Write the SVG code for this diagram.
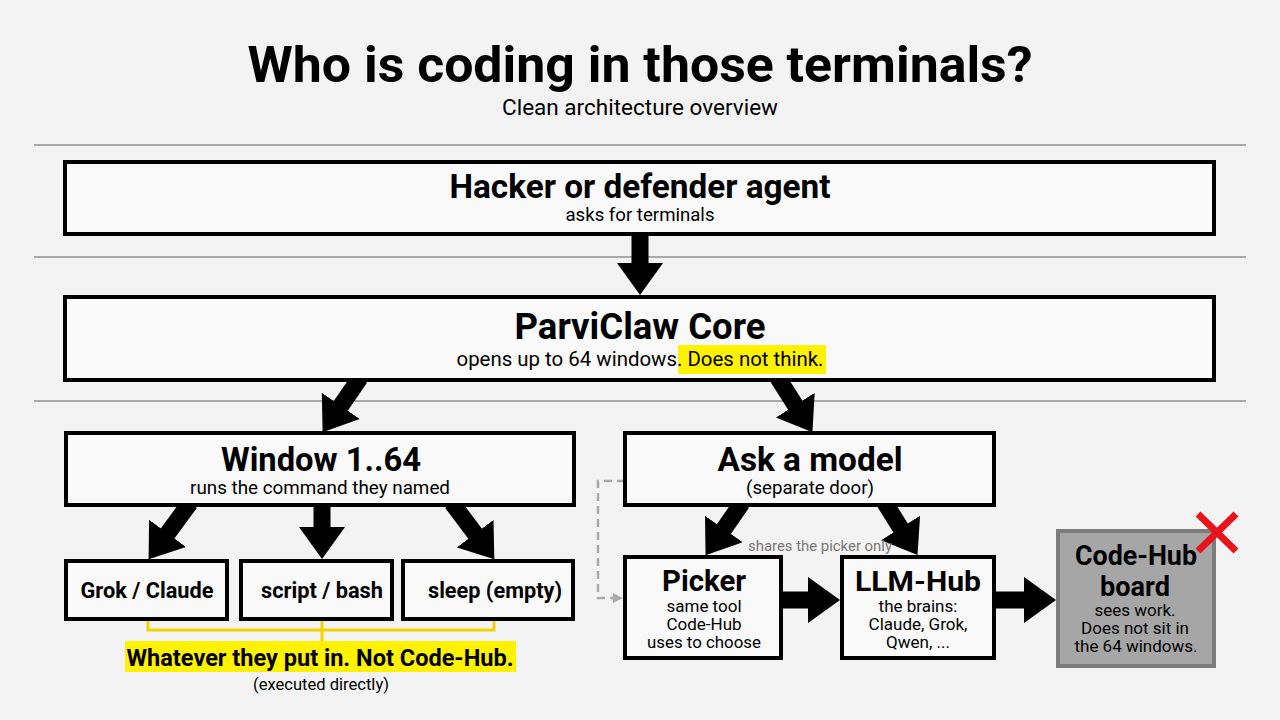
<svg xmlns="http://www.w3.org/2000/svg" width="1280" height="720" viewBox="0 0 1280 720">
<defs>
<marker id="head" viewBox="0 0 32 46" refX="1" refY="23" markerWidth="32" markerHeight="46" markerUnits="userSpaceOnUse" orient="auto">
<path d="M0,0 L32,23 L0,46 z" fill="#000"/>
</marker>
<marker id="ghead" viewBox="0 0 10 10" refX="1" refY="5" markerWidth="10" markerHeight="10" markerUnits="userSpaceOnUse" orient="auto">
<path d="M0,0 L10,5 L0,10 z" fill="#aaa"/>
</marker>
<style>
.t{font-family:Roboto,"Liberation Sans",sans-serif;fill:#000;text-anchor:middle}
.b{font-weight:bold}
.box{fill:#f9f9f9;stroke:#000;stroke-width:4}
.sep{stroke:#a8a8a8;stroke-width:2}
.arr{stroke:#000;stroke-width:17;fill:none}
</style>
</defs>
<rect width="1280" height="720" fill="#f3f3f3"/>
<g id="title">
<text class="t b" x="640" y="82" font-size="50" textLength="785" lengthAdjust="spacingAndGlyphs">Who is coding in those terminals?</text>
<text class="t" x="640" y="115" font-size="22" textLength="276" lengthAdjust="spacingAndGlyphs">Clean architecture overview</text>
</g>
<g id="separators">
<line class="sep" x1="34" y1="145" x2="1246" y2="145"/>
<line class="sep" x1="34" y1="257" x2="1246" y2="257"/>
<line class="sep" x1="34" y1="401" x2="1246" y2="401"/>
</g>
<g id="connectors">
<line class="arr" stroke-width="13" x1="640" y1="234" x2="640" y2="264" marker-end="url(#head)"/>
<line class="arr" x1="360" y1="378" x2="340.2" y2="406.7" marker-end="url(#head)"/>
<line class="arr" x1="778" y1="378" x2="795.8" y2="406" marker-end="url(#head)"/>
<line class="arr" x1="190" y1="503" x2="167" y2="534.2" marker-end="url(#head)"/>
<line class="arr" x1="322" y1="503" x2="322" y2="528" marker-end="url(#head)"/>
<line class="arr" x1="452" y1="503" x2="475.7" y2="534.5" marker-end="url(#head)"/>
<line class="arr" x1="742" y1="503" x2="723.3" y2="529.8" marker-end="url(#head)"/>
<line class="arr" x1="885" y1="503" x2="901.1" y2="528.8" marker-end="url(#head)"/>
<line class="arr" stroke-width="18" x1="781" y1="600" x2="809" y2="600" marker-end="url(#head)"/>
<line class="arr" stroke-width="18" x1="994" y1="600" x2="1025" y2="600" marker-end="url(#head)"/>
<path d="M625,481 H598 V598 H614" fill="none" stroke="#aaa" stroke-width="2.5" stroke-dasharray="8 5" marker-end="url(#ghead)"/>
<path d="M148,620 V630 H494 V620 M322,620 V641" fill="none" stroke="#f2d200" stroke-width="3"/>
<text class="t" x="820" y="551" font-size="14" style="fill:#777" textLength="144" lengthAdjust="spacingAndGlyphs">shares the picker only</text>
</g>
<g id="agent">
<rect class="box" x="65" y="162" width="1149" height="72"/>
<text class="t b" x="640" y="198" font-size="34" textLength="381" lengthAdjust="spacingAndGlyphs">Hacker or defender agent</text>
<text class="t" x="640" y="221" font-size="18" textLength="149" lengthAdjust="spacingAndGlyphs">asks for terminals</text>
</g>
<g id="core">
<rect class="box" x="65" y="297" width="1149" height="83"/>
<text class="t b" x="640" y="339" font-size="36" textLength="251" lengthAdjust="spacingAndGlyphs">ParviClaw Core</text>
<rect x="678" y="345" width="148" height="29" fill="#fff200"/>
<text class="t" x="640" y="366" font-size="20" textLength="367" lengthAdjust="spacingAndGlyphs">opens up to 64 windows. Does not think.</text>
</g>
<g id="window">
<rect class="box" x="66" y="433" width="508" height="72"/>
<text class="t b" x="321" y="471" font-size="34" textLength="200" lengthAdjust="spacingAndGlyphs">Window 1..64</text>
<text class="t" x="320" y="494" font-size="18" textLength="260" lengthAdjust="spacingAndGlyphs">runs the command they named</text>
</g>
<g id="ask">
<rect class="box" x="625" y="433" width="369" height="72"/>
<text class="t b" x="810" y="471" font-size="34" textLength="185" lengthAdjust="spacingAndGlyphs">Ask a model</text>
<text class="t" x="810" y="494" font-size="18" textLength="128" lengthAdjust="spacingAndGlyphs">(separate door)</text>
</g>
<g id="grok">
<rect class="box" x="66" y="561" width="161" height="58"/>
<text class="t b" x="147" y="598" font-size="22" textLength="133" lengthAdjust="spacingAndGlyphs">Grok / Claude</text>
</g>
<g id="script">
<rect class="box" x="241" y="561" width="151" height="58"/>
<text class="t b" x="322" y="598" font-size="22" textLength="122" lengthAdjust="spacingAndGlyphs">script / bash</text>
</g>
<g id="sleep">
<rect class="box" x="403" y="561" width="170" height="58"/>
<text class="t b" x="495" y="598" font-size="22" textLength="134" lengthAdjust="spacingAndGlyphs">sleep (empty)</text>
</g>
<g id="note">
<rect x="125" y="641" width="391" height="31" fill="#fff200"/>
<text class="t b" x="320" y="666" font-size="24" textLength="387" lengthAdjust="spacingAndGlyphs">Whatever they put in. Not Code-Hub.</text>
<text class="t" x="321" y="690" font-size="17" textLength="136" lengthAdjust="spacingAndGlyphs">(executed directly)</text>
</g>
<g id="picker">
<rect class="box" x="625" y="557" width="156" height="101"/>
<text class="t b" x="704" y="591" font-size="29" textLength="84" lengthAdjust="spacingAndGlyphs">Picker</text>
<text class="t" x="704" y="612" font-size="17">same tool</text>
<text class="t" x="704" y="630" font-size="17">Code-Hub</text>
<text class="t" x="704" y="648" font-size="17" textLength="114" lengthAdjust="spacingAndGlyphs">uses to choose</text>
</g>
<g id="llmhub">
<rect class="box" x="842" y="557" width="152" height="101"/>
<text class="t b" x="918" y="591" font-size="28" textLength="126" lengthAdjust="spacingAndGlyphs">LLM-Hub</text>
<text class="t" x="918" y="612" font-size="17">the brains:</text>
<text class="t" x="918" y="630" font-size="17">Claude, Grok,</text>
<text class="t" x="918" y="648" font-size="17">Qwen, ...</text>
</g>
<g id="codehub">
<rect x="1058" y="531" width="156" height="135" fill="#a6a6a6" stroke="#7c7c7c" stroke-width="4"/>
<text class="t b" x="1136" y="565" font-size="27" textLength="122" lengthAdjust="spacingAndGlyphs">Code-Hub</text>
<text class="t b" x="1135" y="596" font-size="27" textLength="70" lengthAdjust="spacingAndGlyphs">board</text>
<text class="t" x="1135" y="616" font-size="17">sees work.</text>
<text class="t" x="1135" y="634" font-size="17">Does not sit in</text>
<text class="t" x="1136" y="652" font-size="17">the 64 windows.</text>
<path d="M1198,514 L1236,551 M1236,514 L1198,551" stroke="#e8141c" stroke-width="7" fill="none"/>
</g>
</svg>
